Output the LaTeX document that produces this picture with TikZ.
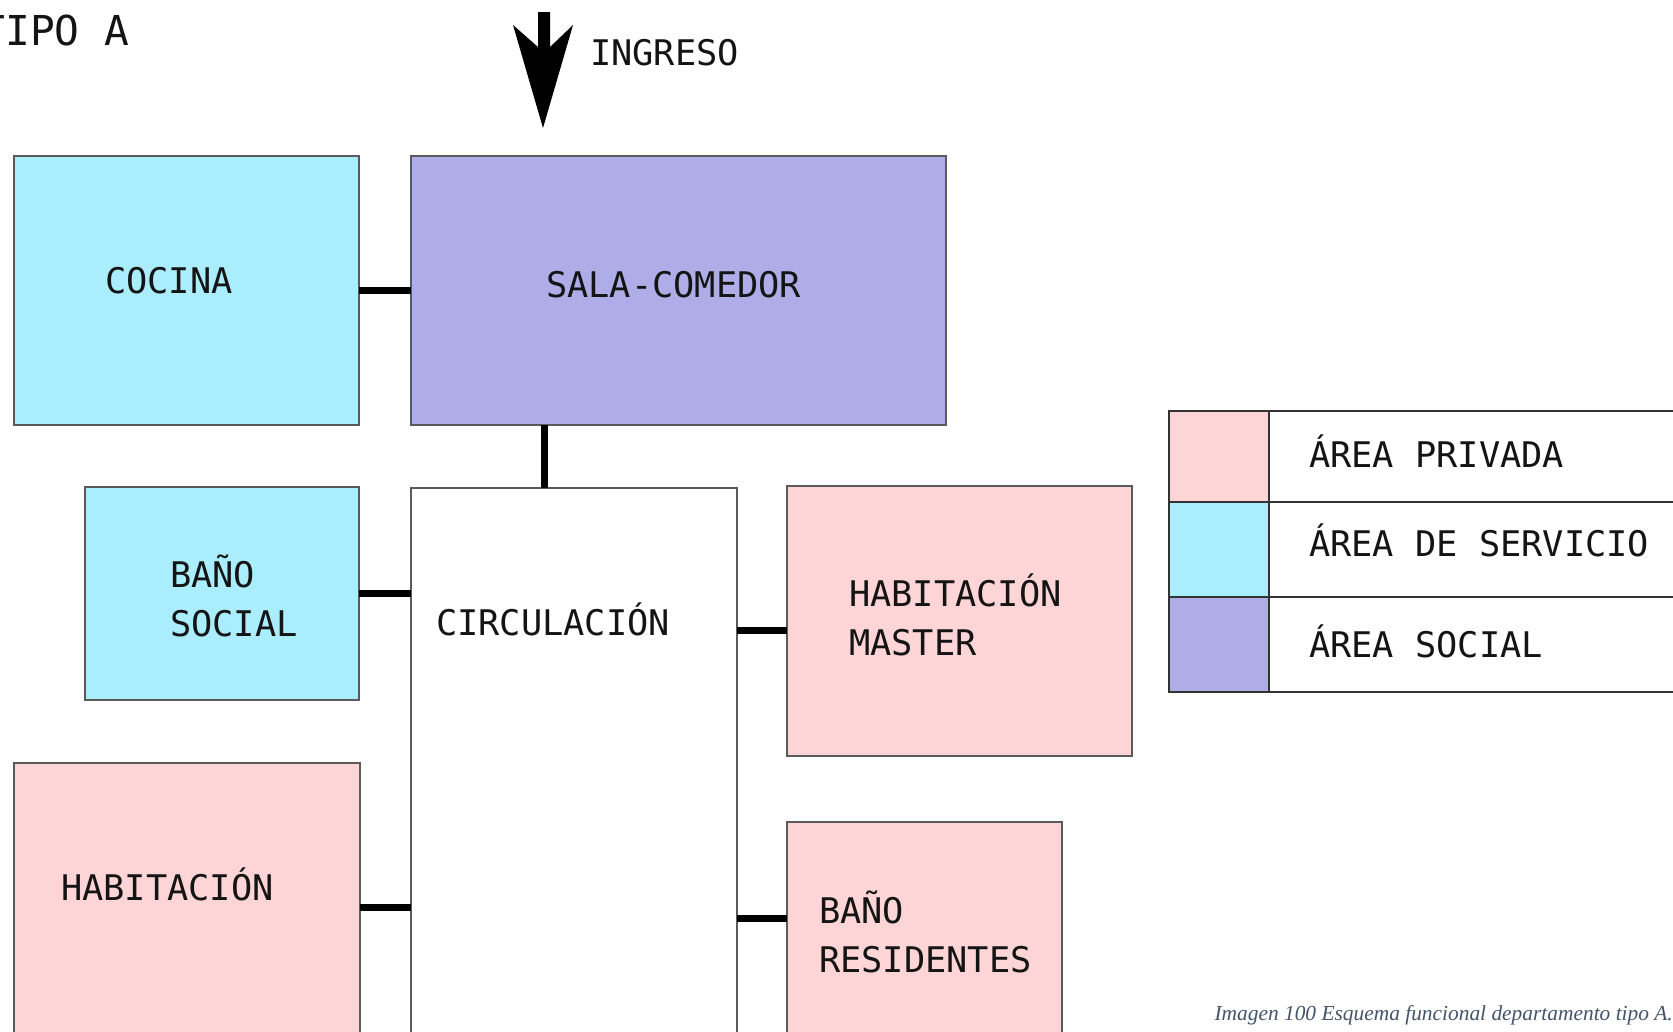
\documentclass[tikz,border=0pt]{standalone}
\usepackage{fontspec}
\setmainfont{DejaVu Sans Mono}
\newfontfamily\capfont{Liberation Serif}
\usetikzlibrary{calc}
\definecolor{servicio}{HTML}{AAEDFC}
\definecolor{social}{HTML}{AEADE8}
\definecolor{privada}{HTML}{FED5D7}
\definecolor{edge}{HTML}{5A5A5A}
\definecolor{legline}{HTML}{333333}
\definecolor{capcol}{HTML}{44546A}
\begin{document}
\begin{tikzpicture}[x=1pt,y=-1pt,
  room/.style={draw=edge, line width=1.6pt, anchor=north west, inner sep=0pt, outer sep=0pt},
  lbl/.style={anchor=base west, inner sep=0pt, outer sep=0pt, font=\fontsize{35.3}{49}\selectfont, text=black!92},
  link/.style={line width=7pt, black},
  legcell/.style={draw=legline, line width=2.4pt, anchor=north west, inner sep=0pt, outer sep=0pt},
]
\clip (0,0) rectangle (1673,1031);
\fill[white] (0,0) rectangle (1673,1031);

% title and entrance
\node[lbl, font=\fontsize{41.2}{49}\selectfont] (tipo) at (-19.5,45) {TIPO A};
\node[lbl] (ingreso) at (590,65) {INGRESO};
\fill[black] (538,12) -- (550,12) -- (550,47) -- (573,25) -- (543,128)
  -- (513,25) -- (538,47) -- cycle;

% rooms
\node[room, fill=servicio, minimum width=345pt, minimum height=269pt] (cocina) at (14,156) {};
\node[room, fill=social,   minimum width=535pt, minimum height=269pt] (sala) at (411,156) {};
\node[room, fill=servicio, minimum width=274pt, minimum height=213pt] (banos) at (85,487) {};
\node[room, fill=white,    minimum width=326pt, minimum height=620pt] (circ) at (411,488) {};
\node[room, fill=privada,  minimum width=345pt, minimum height=270pt] (master) at (787,486) {};
\node[room, fill=privada,  minimum width=346pt, minimum height=320pt] (hab) at (14,763) {};
\node[room, fill=privada,  minimum width=275pt, minimum height=260pt] (resid) at (787,822) {};

% room labels
\node[lbl] (tcocina) at (105,293) {COCINA};
\node[lbl] (tsala) at (546,297) {SALA-COMEDOR};
\node[lbl] (tbanosa) at (170,587) {BAÑO};
\node[lbl] (tbanosb) at (170,636) {SOCIAL};
\node[lbl] (tcirc) at (436,635) {CIRCULACIÓN};
\node[lbl] (tmastera) at (849,606) {HABITACIÓN};
\node[lbl] (tmasterb) at (849,655) {MASTER};
\node[lbl] (thab) at (61,900) {HABITACIÓN};
\node[lbl] (tresida) at (819,923) {BAÑO};
\node[lbl] (tresidb) at (819,972) {RESIDENTES};

% connection points
\coordinate (s1) at ($(sala.south west)+(133,0)$);
\coordinate (m1) at ($(master.north west)+(0,144)$);
\coordinate (h1) at ($(hab.north east)+(0,144)$);
\coordinate (r1) at ($(resid.north west)+(0,96)$);

% connectors
\draw[link] (cocina.east) -- (sala.west);
\draw[link] (s1) -- (s1 |- circ.north);
\draw[link] (banos.east) -- (banos.east -| circ.west);
\draw[link] (m1 -| circ.east) -- (m1);
\draw[link] (h1) -- (h1 -| circ.west);
\draw[link] (r1 -| circ.east) -- (r1);

% legend
\node[legcell, fill=privada,  minimum width=100pt, minimum height=91pt] (swp) at (1169,411) {};
\node[legcell, fill=servicio, minimum width=100pt, minimum height=95pt] (sws) at (1169,502) {};
\node[legcell, fill=social,   minimum width=100pt, minimum height=95pt] (swo) at (1169,597) {};
\node[legcell, minimum width=460pt, minimum height=91pt] (rowp) at (1269,411) {};
\node[legcell, minimum width=460pt, minimum height=95pt] (rows) at (1269,502) {};
\node[legcell, minimum width=460pt, minimum height=95pt] (rowo) at (1269,597) {};
\node[lbl] (tlp) at (1309,467) {ÁREA PRIVADA};
\node[lbl] (tls) at (1309,556) {ÁREA DE SERVICIO};
\node[lbl] (tlo) at (1309,657) {ÁREA SOCIAL};

% caption
\node[anchor=base east, inner sep=0pt, text=capcol,
  font=\capfont\itshape\fontsize{21.4}{25}\selectfont] (caption) at (1673,1020)
  {Imagen 100 Esquema funcional departamento tipo A.};
\end{tikzpicture}
\end{document}
